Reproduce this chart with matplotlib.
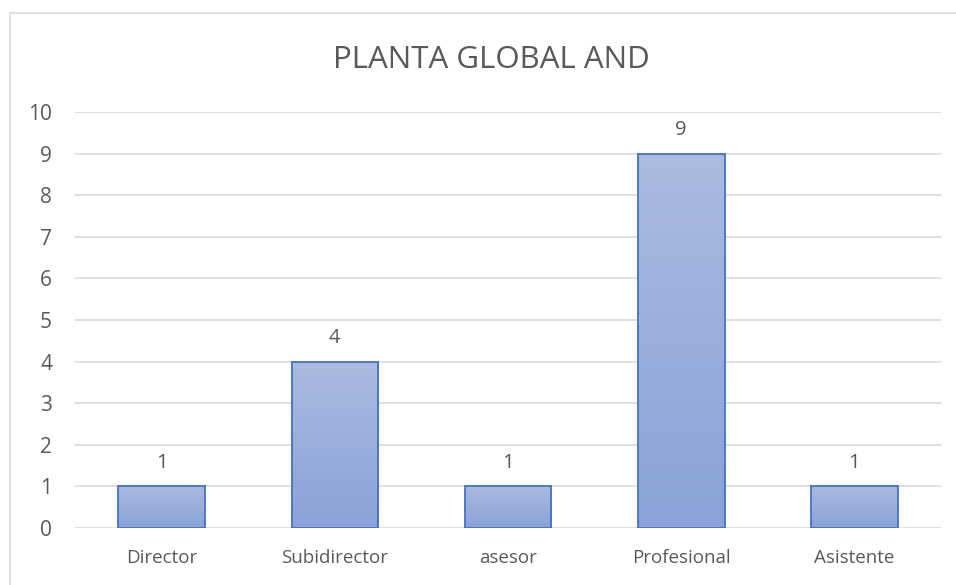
import numpy as np
import matplotlib.pyplot as plt
from matplotlib.colors import LinearSegmentedColormap
from matplotlib.patches import Rectangle

plt.rcParams["font.family"] = ["Open Sans", "DejaVu Sans"]

categories = ["Director", "Subidirector", "asesor", "Profesional", "Asistente"]
values = [1, 4, 1, 9, 1]
title = "PLANTA GLOBAL AND"

TEXT = "#595959"
GRID = "#d9d9d9"
EDGE = "#4472c4"
grad = LinearSegmentedColormap.from_list("bar", ["#8aa2d8", "#abbae0"])

fig = plt.figure(figsize=(9.56, 5.85), dpi=100)
fig.patch.set_facecolor("white")
# chart frame
fig.add_artist(Rectangle((10 / 956, -0.01), 950 / 956, 1 - 13 / 585 + 0.01,
                         transform=fig.transFigure, fill=False,
                         edgecolor="#d9d9d9", linewidth=1.2))

ax = fig.add_axes([75 / 956, 1 - 528 / 585, 866 / 956, 416 / 585])
x = np.arange(len(categories))
bars = ax.bar(x, values, width=0.5, color="none", edgecolor=EDGE, linewidth=1.3, zorder=3)

# vertical gradient fill per bar, light at top
gradient = np.linspace(0, 1, 256).reshape(-1, 1)
for b in bars:
    im = ax.imshow(gradient, cmap=grad, aspect="auto", origin="lower",
                   extent=[b.get_x(), b.get_x() + b.get_width(), 0, b.get_height()],
                   zorder=2)
    im.set_clip_path(b)

for xi, v in zip(x, values):
    ax.text(xi, v + 0.33, str(v), ha="center", va="bottom", fontsize=14.5, color=TEXT)

ax.set_xlim(-0.5, len(categories) - 0.5)
ax.set_ylim(0, 10)
ax.set_yticks(range(0, 11))
ax.set_xticks(x)
ax.set_xticklabels(categories)
ax.tick_params(axis="x", length=0, labelsize=13.5, colors=TEXT, pad=15)
ax.tick_params(axis="y", length=0, labelsize=15, colors=TEXT, pad=16.5)
ax.grid(axis="y", color=GRID, linewidth=1.2, zorder=0)
ax.set_axisbelow(True)
for s in ax.spines.values():
    s.set_visible(False)

fig.text(491 / 956, 1 - 60 / 585, title, ha="center", va="center", fontsize=22.5, color=TEXT)

fig.savefig("out.png", dpi=100, facecolor="white")
